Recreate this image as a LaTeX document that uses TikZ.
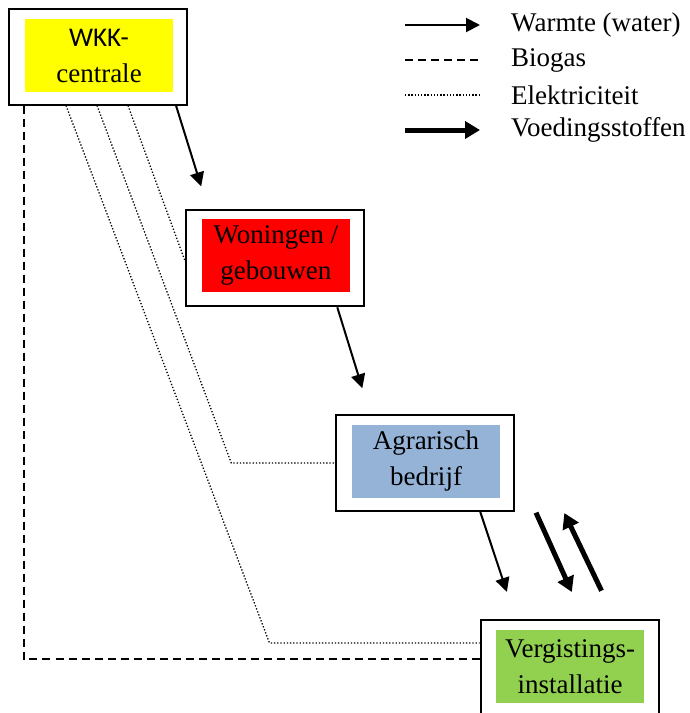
\documentclass[tikz,border=0pt]{standalone}
\usepackage{fontspec}
\setmainfont{Liberation Serif}
\newfontfamily\calibrifont{Carlito}
\usepackage{color}
\definecolor{myyellow}{RGB}{255,255,0}
\definecolor{myred}{RGB}{255,0,0}
\definecolor{myblue}{RGB}{149,179,215}
\definecolor{mygreen}{RGB}{146,208,80}
\usepackage{tikz}
\usetikzlibrary{calc,arrows.meta,positioning}
\tikzstyle{frame}=[draw,line width=2pt,minimum width=178pt,minimum height=96pt,inner sep=0pt]
\tikzstyle{boxtext}=[minimum width=148pt,minimum height=73pt,inner sep=0pt,align=center,font=\fontsize{27}{36}\selectfont]
\tikzstyle{legtext}=[anchor=west,inner sep=0pt,font=\fontsize{27}{32}\selectfont]
\tikzstyle{warmte}=[line width=2pt,-{Triangle[length=14pt,width=14pt]}]
\tikzstyle{voeding}=[line width=5pt,-{Triangle[length=15pt,width=17pt]}]
\tikzstyle{biogas}=[line width=1.6pt,dash pattern=on 8pt off 5pt]
\tikzstyle{elek}=[line width=1.3pt,dash pattern=on 1.3pt off 1.9pt]

\begin{document}
\begin{tikzpicture}[x=1pt,y=-1pt]
\useasboundingbox (0,0) rectangle (690,713);
% boxes
\draw (98, 56.5) node [frame] (wkk) {};
\draw (99, 55.5) node [boxtext, fill=myyellow] (wkktxt) {{\calibrifont WKK-}\\centrale};
\draw (275.3, 258.3) node [frame] (won) {};
\draw (275.8, 255.8) node [boxtext, fill=myred] (wontxt) {Woningen /\\gebouwen};
\draw (425.3, 463) node [frame] (agr) {};
\draw (426, 461.3) node [boxtext, fill=myblue] (agrtxt) {Agrarisch\\bedrijf};
\draw (569.5, 668) node [frame] (verg) {};
\draw (570, 666.3) node [boxtext, fill=mygreen] (vergtxt) {Vergistings-\\installatie};
% warmte
\draw[warmte, shorten >=24pt] ($(wkk.south east)+(-12,0)$) -- ($(won.north west)+(23,0)$);
\draw[warmte, shorten >=27pt] ($(won.south east)+(-28,0)$) -- ($(agr.north west)+(35,0)$);
\draw[warmte, shorten >=28.6pt] ($(agr.south east)+(-35,0)$) -- ($(verg.north west)+(36.4,0)$);
% voedingsstoffen
\coordinate (vd1) at ($(agr.south east)+(20.7,0.7)$);
\coordinate (vd2) at ($(verg.north west)+(92.3,-27)$);
\coordinate (vu1) at ($(verg.north west)+(122,-28.3)$);
\coordinate (vu2) at ($(agr.south east)+(49,1)$);
\draw[voeding] (vd1) -- (vd2);
\draw[voeding] (vu1) -- (vu2);
% elektriciteit en biogas
\draw[elek] ($(wkk.south)+(30,0)$) -- ($(won.west)+(0,3.5)$);
\draw[elek] ($(wkk.south)+(-1,0)$) -- ($(agr.west)+(-104,0)$) -- (agr.west);
\draw[elek] ($(wkk.south)+(-32,0)$) -- ($(verg.west)+(-210,-25)$) -- ($(verg.west)+(0,-25)$);
\draw[biogas] ($(wkk.south west)+(16,0)$) |- ($(verg.west)+(0,-9)$);
% legenda
\draw (511, 25) node [legtext] (lwarm) {Warmte (water)};
\draw (511, 60) node [legtext] (lbio) {Biogas};
\draw (511, 95) node [legtext] (lelek) {Elektriciteit};
\draw (511, 130) node [legtext] (lvoed) {Voedingsstoffen};
\draw[warmte] ($(lwarm.west)+(-106,0)$) -- ($(lwarm.west)+(-31,0)$);
\draw[biogas] ($(lbio.west)+(-106,0)$) -- ($(lbio.west)+(-31,0)$);
\draw[elek] ($(lelek.west)+(-106,0)$) -- ($(lelek.west)+(-31,0)$);
\draw[voeding] ($(lvoed.west)+(-106,0)$) -- ($(lvoed.west)+(-31,0)$);
\end{tikzpicture}
\end{document}
